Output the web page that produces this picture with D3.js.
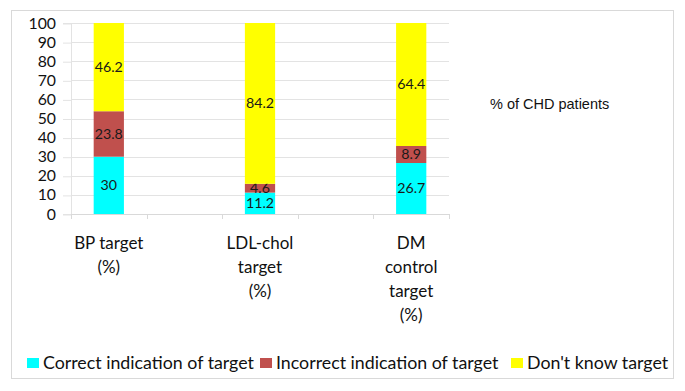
<!doctype html>
<html>
<head>
<meta charset="utf-8">
<title>CHD targets</title>
<script src="https://cdn.jsdelivr.net/npm/d3@7"></script>
<style>
  body { margin: 0; background: #fff; }
  svg { display: block; }
  text { font-family: Lato, "Noto Sans", sans-serif; }
</style>
</head>
<body>
<svg width="685" height="391"></svg>
<script>
// categories (two empty slots keep the wide gaps between the bars)
var categories = ["BP", "gap1", "LDL", "gap2", "DM"];
var categoryLabels = {
  BP: ["BP target", "(%)"],
  LDL: ["LDL-chol", "target", "(%)"],
  DM: ["DM", "control", "target", "(%)"]
};
var seriesNames = ["Correct indication of target", "Incorrect indication of target", "Don't know target"];
var correct = [30, null, 11.2, null, 26.7];
var incorrect = [23.8, null, 4.6, null, 8.9];
var dontKnow = [46.2, null, 84.2, null, 64.4];
var yTicks = [0, 10, 20, 30, 40, 50, 60, 70, 80, 90, 100];
var colors = ["#00ffff", "#c0504d", "#ffff00"];

var svg = d3.select("svg");
var margin = { top: 23, left: 71 },
    plotW = 378, plotH = 191;

// outer frame
svg.append("rect")
  .attr("x", 11.5).attr("y", 10.5)
  .attr("width", 662).attr("height", 368)
  .attr("fill", "#fff").attr("stroke", "#d9d9d9");

var g = svg.append("g").attr("transform", "translate(" + margin.left + "," + margin.top + ")");

var x = d3.scaleBand().domain(categories).range([0, plotW]).paddingInner(0.6).paddingOuter(0.3);
var band = d3.scaleBand().domain(categories).range([0, plotW]);
var y = d3.scaleLinear().domain([0, 100]).range([plotH, 0]);

// gridlines
g.selectAll(".grid").data(yTicks).enter().append("line")
  .attr("x1", 0).attr("x2", plotW)
  .attr("y1", function (d) { return Math.round(y(d)) + 0.5; })
  .attr("y2", function (d) { return Math.round(y(d)) + 0.5; })
  .attr("stroke", "#e3e3e3");

// y axis
var yAxis = g.append("g").call(d3.axisLeft(y).tickValues(yTicks).tickSize(8).tickPadding(7));
yAxis.select(".domain").attr("stroke", "#e3e3e3");
yAxis.selectAll(".tick line").attr("stroke", "#e3e3e3")
  .attr("transform", "translate(0,0.5)");
yAxis.selectAll("text").attr("font-size", 15.8).attr("fill", "#111")
  .style("font-family", "Lato, sans-serif");

// x axis baseline and tick marks at band edges
g.append("line").attr("x1", 0).attr("x2", plotW)
  .attr("y1", plotH + 0.5).attr("y2", plotH + 0.5).attr("stroke", "#d9d9d9");
var edges = categories.map(function (c) { return band(c); }).concat([plotW]);
g.selectAll(".xtick").data(edges).enter().append("line")
  .attr("x1", function (d) { return Math.round(d) + 0.5; })
  .attr("x2", function (d) { return Math.round(d) + 0.5; })
  .attr("y1", plotH).attr("y2", plotH + 5)
  .attr("stroke", "#d9d9d9");

// stack
var keys = ["s0", "s1", "s2"];
var rows = categories.map(function (c, i) {
  return { cat: c, s0: correct[i], s1: incorrect[i], s2: dontKnow[i] };
}).filter(function (d) { return d.s0 != null; });
var stack = d3.stack().keys(keys)(rows);

stack.forEach(function (layer, li) {
  var lg = g.append("g");
  lg.selectAll("rect").data(layer).enter().append("rect")
    .attr("x", function (d) { return x(d.data.cat); })
    .attr("width", x.bandwidth())
    .attr("y", function (d) { return y(d[1]); })
    .attr("height", function (d) { return y(d[0]) - y(d[1]); })
    .attr("fill", colors[li]);
  lg.selectAll("text").data(layer).enter().append("text")
    .attr("x", function (d) { return x(d.data.cat) + x.bandwidth() / 2; })
    .attr("y", function (d) { return y((d[0] + d[1]) / 2); })
    .attr("dy", "0.35em")
    .attr("text-anchor", "middle")
    .attr("font-size", 14.2)
    .attr("fill", "#1a1a1a")
    .text(function (d) { return d.data[keys[li]]; });
});

// category labels
categories.forEach(function (c) {
  if (!categoryLabels[c]) return;
  var t = g.append("text")
    .attr("text-anchor", "middle")
    .attr("font-size", 17)
    .attr("fill", "#111");
  categoryLabels[c].forEach(function (line, k) {
    t.append("tspan")
      .attr("x", x(c) + x.bandwidth() / 2)
      .attr("y", plotH + 35 + k * 24)
      .text(line);
  });
});

// side note
svg.append("text")
  .attr("x", 490).attr("y", 109)
  .attr("font-size", 14.5)
  .style("font-family", "'Liberation Sans', Arial, sans-serif")
  .attr("fill", "#111")
  .text("% of CHD patients");

// legend
var legendX = [27, 260, 511];
var legend = svg.append("g");
seriesNames.forEach(function (name, i) {
  legend.append("rect")
    .attr("x", legendX[i]).attr("y", 358)
    .attr("width", 12).attr("height", 10)
    .attr("fill", colors[i]);
  legend.append("text")
    .attr("x", legendX[i] + 16).attr("y", 369)
    .attr("font-size", 17.8)
    .attr("fill", "#111")
    .text(name);
});
</script>
</body>
</html>
